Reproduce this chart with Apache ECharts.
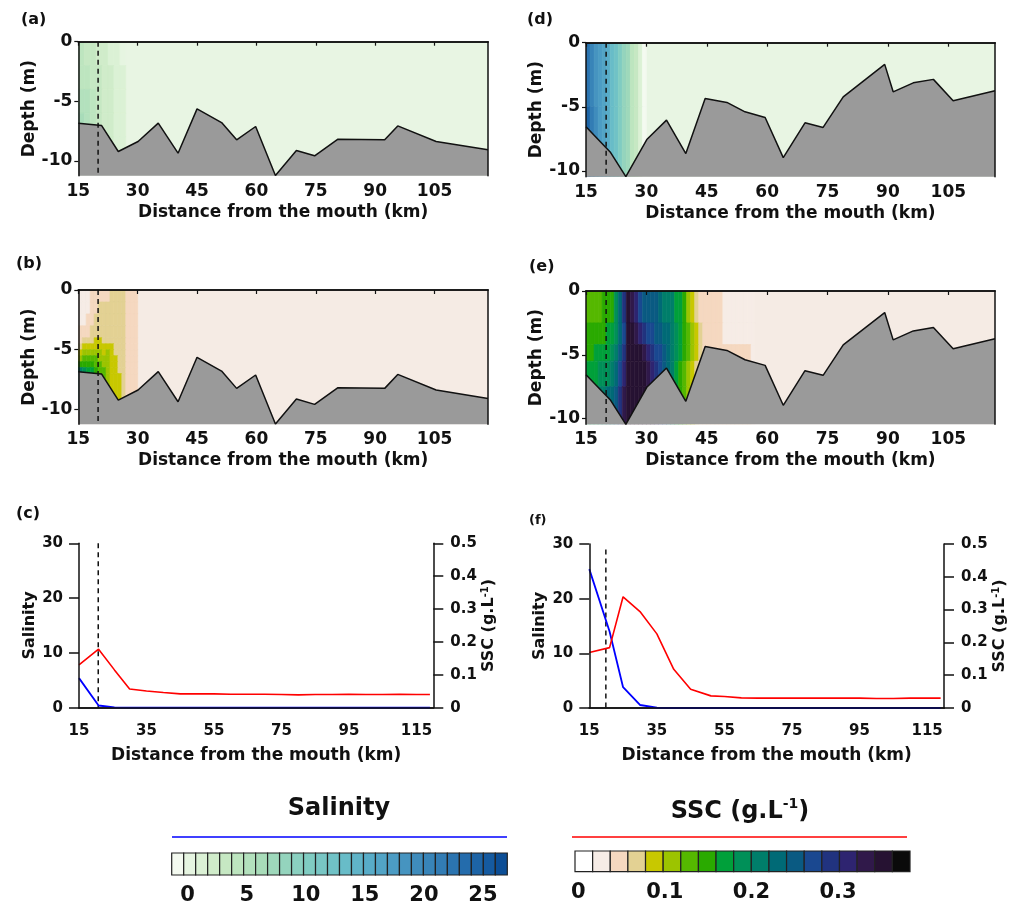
<!DOCTYPE html>
<html>
<head>
<meta charset="utf-8">
<script src="https://cdn.jsdelivr.net/npm/echarts@6/dist/echarts.min.js"></script>
<style>
html, body { margin: 0; padding: 0; background: #fff; }
#fig { width: 1019px; height: 910px; }
</style>
</head>
<body>
<div id="fig"></div>
<script>
// ---- data ----
// bed profiles (km, m)
var bedAB = [[15, -6.84], [20.9, -7.04], [25.1, -9.22], [30.1, -8.38], [35.2, -6.84], [40.2, -9.36], [45, -5.64], [51.2, -6.79], [55, -8.24], [59.8, -7.12], [64.8, -11.23], [70.1, -9.13], [74.7, -9.58], [80.6, -8.18], [92.4, -8.24], [95.7, -7.07], [105.4, -8.38], [118.5, -9.08]];
var bedDE = [[15, -6.56], [21, -8.52], [24.9, -10.45], [30.1, -7.55], [35, -6.04], [39.8, -8.65], [44.6, -4.35], [50, -4.66], [54.5, -5.39], [59.5, -5.83], [64, -8.96], [69.4, -6.25], [73.9, -6.61], [78.9, -4.22], [89.2, -1.69], [91.3, -3.83], [96.3, -3.13], [101.3, -2.86], [106.2, -4.53], [116.6, -3.75]];

// (a) salinity section near the mouth
var aX = [15, 16.5, 18, 19.5, 21, 22.5, 24, 25.5, 27];
var aZ = [0, -2, -4, -6, -8, -10];
var aSal = [
  [5, 4, 4, 3, 3, 2, 2, 1],
  [5, 5, 4, 4, 3, 3, 2, 2],
  [6, 6, 5, 4, 3, 3, 2, 2],
  [7, 6, 5, 4, 3, 3, 2, 2],
  [7, 6, 5, 4, 3, 3, 2, 2]
];

// (b) SSC section near the mouth (g/L)
var bX = [15, 16, 17, 18, 19, 20, 21, 22, 23, 24, 25, 26, 27, 28, 29, 30];
var bZ = [0, -1, -2, -3, -4, -4.5, -5, -5.5, -6, -6.5, -7, -10];
var bSsc = [
  [.03, .03, .03, .05, .05, .05, .05, .05, .07, .07, .07, .07, .05, .05, .05],
  [.03, .03, .03, .05, .05, .07, .07, .07, .07, .07, .07, .07, .05, .05, .05],
  [.03, .03, .05, .05, .07, .07, .07, .07, .07, .07, .07, .07, .05, .05, .05],
  [.05, .05, .05, .07, .07, .07, .07, .07, .07, .07, .07, .07, .05, .05, .05],
  [.05, .07, .07, .07, .09, .09, .07, .07, .07, .07, .07, .07, .05, .05, .05],
  [.07, .09, .09, .09, .09, .09, .09, .09, .09, .07, .07, .07, .05, .05, .05],
  [.09, .11, .11, .11, .11, .11, .09, .11, .09, .07, .07, .07, .05, .05, .05],
  [.11, .13, .13, .13, .13, .11, .11, .11, .09, .09, .07, .07, .05, .05, .05],
  [.15, .15, .15, .15, .13, .13, .11, .11, .09, .09, .07, .07, .05, .05, .05],
  [.21, .19, .17, .17, .15, .13, .13, .11, .09, .09, .07, .07, .05, .05, .05],
  [.21, .19, .17, .17, .15, .13, .13, .11, .09, .09, .09, .07, .05, .05, .05]
];

// (d) salinity section near the mouth
var dX = [15, 16, 17, 18, 19, 20, 21, 22, 23, 24, 25, 26, 27, 28, 29, 30];
var dZ = [0, -5, -10.45];
var dSal = [
  [23, 21, 19, 18, 17, 16, 14, 13, 11, 9, 8, 5, 4, 2, 0],
  [25, 22, 20, 18, 17, 16, 14, 13, 11, 9, 8, 5, 4, 2, 0]
];

// (e) SSC section (g/L)
var eX = [15, 16, 17, 18, 19, 20, 21, 22, 23, 24, 25, 26, 27, 28, 29, 30, 31, 32, 33, 34, 35, 36, 37, 38, 39, 40, 41, 42, 43, 44, 45, 46, 47, 48, 49, 50, 51, 52, 53, 54, 55, 56, 57];
var eZ = [0, -2.5, -4.2, -5.5, -7.5, -10.45];
var eSsc = [
  [.13, .13, .13, .13, .15, .15, .15, .19, .23, .29, .35, .33, .31, .27, .25, .25, .25, .25, .23, .21, .21, .21, .17, .17, .15, .11, .09, .07, .05, .05, .05, .05, .05, .05, .03, .03, .03, .03, .03, .03, .03, .03],
  [.15, .15, .15, .15, .15, .17, .17, .19, .23, .27, .35, .35, .33, .31, .29, .27, .27, .25, .25, .23, .23, .21, .19, .17, .15, .13, .11, .09, .07, .05, .05, .05, .05, .05, .03, .03, .03, .03, .03, .03, .03, .03],
  [.15, .15, .17, .17, .17, .17, .19, .21, .25, .29, .35, .35, .35, .35, .33, .31, .29, .27, .27, .25, .23, .21, .19, .17, .15, .13, .11, .09, .07, .05, .05, .05, .05, .05, .05, .05, .05, .05, .05, .05, .05, .03],
  [.17, .17, .17, .19, .19, .19, .21, .23, .27, .31, .35, .35, .35, .35, .35, .33, .31, .29, .27, .25, .23, .21, .17, .15, .13, .11, .09, .07, .05, .05, .05, .05, .05, .05, .05, .05, .05, .05, .05, .05, .05, .03],
  [.19, .19, .19, .21, .21, .23, .23, .25, .29, .33, .35, .35, .35, .35, .35, .35, .33, .31, .29, .27, .23, .21, .17, .15, .13, .11, .09, .07, .05, .05, .05, .05, .05, .05, .05, .05, .05, .05, .05, .05, .05, .03]
];

// (c) depth-averaged profiles
var distC = [15, 20.8, 25.5, 30, 35, 40, 45, 50, 55, 60, 65, 70, 75, 80, 85, 90, 95, 100, 105, 110, 115, 119];
var salC = [5.4, 0.4, 0.05, 0, 0, 0, 0, 0, 0, 0, 0, 0, 0, 0, 0, 0, 0, 0, 0, 0, 0, 0];
var sscC = [0.130, 0.178, 0.115, 0.057, 0.051, 0.046, 0.042, 0.042, 0.042, 0.041, 0.041, 0.041, 0.040, 0.039, 0.040, 0.040, 0.041, 0.040, 0.040, 0.041, 0.040, 0.040];

// (f) depth-averaged profiles
var distF = [15, 21, 25, 30, 35, 40, 45, 51, 55, 60, 65, 70, 75, 80, 85, 90, 95, 100, 105, 110, 115, 119];
var salF = [25.4, 14.0, 3.8, 0.55, 0.05, 0, 0, 0, 0, 0, 0, 0, 0, 0, 0, 0, 0, 0, 0, 0, 0, 0];
var sscF = [0.169, 0.184, 0.339, 0.294, 0.226, 0.118, 0.057, 0.037, 0.035, 0.031, 0.030, 0.030, 0.030, 0.030, 0.030, 0.030, 0.030, 0.029, 0.029, 0.030, 0.030, 0.030];

// colour bars
var salBounds = [0, 1, 2, 3, 4, 5, 6, 7, 8, 9, 10, 11, 12, 13, 14, 15, 16, 17, 18, 19, 20, 21, 22, 23, 24, 25, 26, 27, 28];
var sscBounds = [0, 0.02, 0.04, 0.06, 0.08, 0.1, 0.12, 0.14, 0.16, 0.18, 0.2, 0.22, 0.24, 0.26, 0.28, 0.3, 0.32, 0.34, 0.36, 0.38];

var xTicksSec = [15, 30, 45, 60, 75, 90, 105];
var depthTicks = [0, -5, -10];
var xTicksProf = [15, 35, 55, 75, 95, 115];
var salBarTicks = [0, 5, 10, 15, 20, 25];
var sscBarTicks = [0, 0.1, 0.2, 0.3];

// ---- styles ----
var FONT = 'DejaVu Sans';
var INK = '#111';
var salPal = ['#f4faf0', '#e6f5e1', '#dbf1d5', '#d0ecca', '#c6e8c3', '#bde5bf', '#b3e1bd', '#a8dcb9', '#9ed8bb', '#94d4bd', '#8ad0c0', '#80ccc2', '#78c6c4', '#70c2c6', '#68bcc8', '#60b4c8', '#58acc8', '#52a4c6', '#4c9cc4', '#4694c0', '#3f8cbc', '#3884b8', '#327cb4', '#2b74b0', '#246cac', '#1d64a6', '#155aa0', '#0c4e96'];
var sscPal = ['#ffffff', '#f6ece6', '#f5d8c0', '#e3d193', '#c8c800', '#9cc400', '#55b800', '#2aaa00', '#00a03a', '#009058', '#007e6a', '#006a76', '#0a5a82', '#1a4890', '#21337f', '#2e2470', '#30194a', '#261232', '#0a0a0a'];

function txt(size) {
  return { fontFamily: FONT, fontWeight: 'bold', fontSize: size, color: INK };
}

function cellData(xe, ze, field) {
  var out = [];
  for (var r = 0; r < field.length; r++) {
    for (var c = 0; c < field[r].length; c++) {
      out.push([xe[c], xe[c + 1], ze[r], ze[r + 1], field[r][c]]);
    }
  }
  return out;
}

function barData(bounds) {
  var out = [];
  for (var i = 0; i < bounds.length - 1; i++) {
    out.push([bounds[i], bounds[i + 1], 1, 0, bounds[i]]);
  }
  return out;
}

function cellRenderer(pal, step, edge) {
  return function (params, api) {
    var a = api.coord([api.value(0), api.value(2)]);
    var b = api.coord([api.value(1), api.value(3)]);
    var k = Math.floor(api.value(4) / step + 1e-6);
    k = Math.max(0, Math.min(pal.length - 1, k));
    return {
      type: 'rect',
      shape: { x: a[0], y: a[1], width: b[0] - a[0], height: b[1] - a[1] },
      style: { fill: pal[k], stroke: edge || pal[k], lineWidth: edge ? 1.2 : 0.6 }
    };
  };
}

var grids = [];
var xAxes = [];
var yAxes = [];
var series = [];
var frameLine = { show: true, lineStyle: { color: INK, width: 1.5 } };

function addSection(box, xmax, ymin, bg, bed, xe, ze, field, pal, step, dashX, yGap) {
  var g = grids.length;
  grids.push({ left: box[0], top: box[1], width: box[2], height: box[3], show: true, backgroundColor: bg, borderWidth: 0 });
  var xi = xAxes.length, yi = yAxes.length;
  xAxes.push({
    gridIndex: g, type: 'value', min: 15, max: xmax, z: 10,
    axisLine: frameLine,
    axisTick: { show: true, length: 4, customValues: xTicksSec, lineStyle: { color: INK, width: 1.2 } },
    axisLabel: Object.assign({ customValues: xTicksSec, margin: 7 }, txt(17)),
    splitLine: { show: false },
    name: 'Distance from the mouth (km)', nameLocation: 'middle', nameGap: 28,
    nameTextStyle: txt(17)
  });
  xAxes.push({
    gridIndex: g, type: 'value', position: 'top', min: 15, max: xmax, z: 10,
    axisLine: frameLine, axisTick: { show: false }, axisLabel: { show: false }, splitLine: { show: false }
  });
  yAxes.push({
    gridIndex: g, type: 'value', min: ymin, max: 0, z: 10,
    axisLine: frameLine,
    axisTick: { show: true, length: 4, customValues: depthTicks, lineStyle: { color: INK, width: 1.2 } },
    axisLabel: Object.assign({ customValues: depthTicks, margin: 6 }, txt(17)),
    splitLine: { show: false },
    name: 'Depth (m)', nameLocation: 'middle', nameGap: yGap,
    nameTextStyle: txt(17)
  });
  yAxes.push({
    gridIndex: g, type: 'value', position: 'right', min: ymin, max: 0, z: 10,
    axisLine: frameLine, axisTick: { show: false }, axisLabel: { show: false }, splitLine: { show: false }
  });
  series.push({
    type: 'custom', xAxisIndex: xi, yAxisIndex: yi, z: 1, silent: true, clip: true,
    renderItem: cellRenderer(pal, step),
    encode: { x: [0, 1], y: [2, 3] },
    data: cellData(xe, ze, field)
  });
  series.push({
    type: 'line', xAxisIndex: xi, yAxisIndex: yi, z: 3, silent: true, symbol: 'none',
    data: bed,
    lineStyle: { color: INK, width: 1.5 },
    areaStyle: { color: '#9a9a9a', opacity: 1, origin: 'start' }
  });
  series.push({
    type: 'line', xAxisIndex: xi, yAxisIndex: yi, z: 4, silent: true, symbol: 'none',
    data: [[dashX, 0], [dashX, ymin]],
    lineStyle: { color: INK, width: 1.5, type: [5, 4] }
  });
}

function addProfile(box, dist, sal, ssc, dashX, dashTop) {
  var g = grids.length;
  grids.push({ left: box[0], top: box[1], width: box[2], height: box[3] });
  var xi = xAxes.length, yi = yAxes.length;
  xAxes.push({
    gridIndex: g, type: 'value', min: 15, max: 120, z: 0,
    axisLine: frameLine, axisTick: { show: false },
    axisLabel: Object.assign({ customValues: xTicksProf, margin: 16 }, txt(15)),
    splitLine: { show: false },
    name: 'Distance from the mouth (km)', nameLocation: 'middle', nameGap: 39,
    nameTextStyle: txt(17)
  });
  xAxes.push({
    gridIndex: g, type: 'value', position: 'top', min: 15, max: 120, z: 10,
    axisLine: frameLine, axisTick: { show: false }, axisLabel: { show: false }, splitLine: { show: false }
  });
  yAxes.push({
    gridIndex: g, type: 'value', min: 0, max: 30, interval: 10, z: 10,
    axisLine: frameLine,
    axisTick: { show: true, length: 10, lineStyle: { color: INK, width: 1.5 } },
    axisLabel: Object.assign({ margin: 16 }, txt(15)),
    splitLine: { show: false },
    name: 'Salinity', nameLocation: 'middle', nameGap: 41,
    nameTextStyle: txt(16)
  });
  yAxes.push({
    gridIndex: g, type: 'value', position: 'right', min: 0, max: 0.5, interval: 0.1, z: 10,
    axisLine: frameLine,
    axisTick: { show: true, length: 10, lineStyle: { color: INK, width: 1.5 } },
    axisLabel: Object.assign({ margin: 17, formatter: function (v) { return v === 0 ? '0' : v.toFixed(1); } }, txt(15)),
    splitLine: { show: false },
    name: '{n|SSC (g.L}{s|-1}{n|)}', nameLocation: 'middle', nameGap: 47,
    nameTextStyle: { rich: { n: txt(16), s: Object.assign({ verticalAlign: 'top', lineHeight: 10 }, txt(10)) } }
  });
  series.push({
    type: 'line', xAxisIndex: xi, yAxisIndex: yi, z: 3, silent: true, symbol: 'none',
    data: [[dashX, dashTop], [dashX, 0]],
    lineStyle: { color: INK, width: 1.5, type: [5, 4] }
  });
  series.push({
    type: 'line', xAxisIndex: xi, yAxisIndex: yi, z: 5, silent: true, symbol: 'none', clip: false,
    data: dist.map(function (d, i) { return [d, sal[i]]; }),
    lineStyle: { color: '#0000ff', width: 1.8 }
  });
  series.push({
    type: 'line', xAxisIndex: xi, yAxisIndex: yi + 1, z: 5, silent: true, symbol: 'none', clip: false,
    data: dist.map(function (d, i) { return [d, ssc[i]]; }),
    lineStyle: { color: '#ff0000', width: 1.6 }
  });
}

function addBar(box, bounds, pal, step, ticks, lmin, lmax, fmt) {
  var g = grids.length;
  grids.push({ left: box[0], top: box[1], width: box[2], height: box[3] });
  var xi = xAxes.length, yi = yAxes.length;
  xAxes.push({ gridIndex: g, type: 'value', position: 'top', show: false, min: bounds[0], max: bounds[bounds.length - 1] });
  xAxes.push({
    gridIndex: g, type: 'value', min: lmin, max: lmax,
    axisLine: { show: false }, axisTick: { show: false }, splitLine: { show: false },
    axisLabel: Object.assign({ customValues: ticks, margin: 10, formatter: fmt }, txt(21))
  });
  yAxes.push({ gridIndex: g, type: 'value', show: false, min: 0, max: 1 });
  series.push({
    type: 'custom', xAxisIndex: xi, yAxisIndex: yi, silent: true,
    renderItem: cellRenderer(pal, step, '#222'),
    encode: { x: [0, 1], y: [2, 3] },
    data: barData(bounds)
  });
}

addSection([78.3, 41.7, 409.7, 134], 118.5, -11.25, '#e8f5e3', bedAB, aX, aZ, aSal, salPal, 1, 20, 34);
addSection([78.3, 290, 409.7, 134.3], 118.5, -11.25, '#f5ebe4', bedAB, bX, bZ, bSsc, sscPal, 0.02, 20, 34);
addSection([586, 42.7, 409, 134], 116.6, -10.45, '#e8f5e3', bedDE, dX, dZ, dSal, salPal, 1, 20, 37);
addSection([586, 291, 409, 133.3], 116.6, -10.45, '#f5ebe4', bedDE, eX, eZ, eSsc, sscPal, 0.02, 20, 37);
addProfile([79, 543.3, 354.3, 164.4], distC, salC, sscC, 20.7, 30);
addProfile([589.3, 544, 354.7, 164], distF, salF, sscF, 19.9, 29);
addBar([171.7, 853, 335.6, 22], salBounds, salPal, 1, salBarTicks, -1.35, 27.06, function (v) { return String(v); });
addBar([575, 851, 335, 20.7], sscBounds, sscPal, 0.02, sscBarTicks, -0.0037, 0.383, function (v) { return v === 0 ? '0' : v.toFixed(1); });

function label(t, x, y, size) {
  return { type: 'text', x: x, y: y, style: { text: t, fill: INK, fontFamily: FONT, fontWeight: 'bold', fontSize: size, verticalAlign: 'top' } };
}

var graphics = [
  label('(a)', 21, 12, 16),
  label('(b)', 16, 256, 16),
  label('(c)', 16, 506, 16),
  label('(d)', 527, 12, 16),
  label('(e)', 529, 259, 16),
  label('(f)', 529, 514, 13),
  { type: 'text', x: 339, y: 797, style: { text: 'Salinity', fill: INK, fontFamily: FONT, fontWeight: 'bold', fontSize: 24, align: 'center', verticalAlign: 'top' } },
  { type: 'text', x: 740, y: 797, style: {
      text: '{n|SSC (g.L}{s|-1}{n|)}', align: 'center', verticalAlign: 'top',
      rich: { n: { fill: INK, fontFamily: FONT, fontWeight: 'bold', fontSize: 24, lineHeight: 30 },
              s: { fill: INK, fontFamily: FONT, fontWeight: 'bold', fontSize: 14, lineHeight: 14, verticalAlign: 'top' } } } },
  { type: 'line', shape: { x1: 172, y1: 837, x2: 507, y2: 837 }, style: { stroke: '#0000ff', lineWidth: 1.5 } },
  { type: 'line', shape: { x1: 572, y1: 837, x2: 907, y2: 837 }, style: { stroke: '#ff0000', lineWidth: 1.5 } }
];

var chart = echarts.init(document.getElementById('fig'));
chart.setOption({
  animation: false,
  backgroundColor: '#fff',
  grid: grids,
  xAxis: xAxes,
  yAxis: yAxes,
  series: series,
  graphic: graphics
});
</script>
</body>
</html>
